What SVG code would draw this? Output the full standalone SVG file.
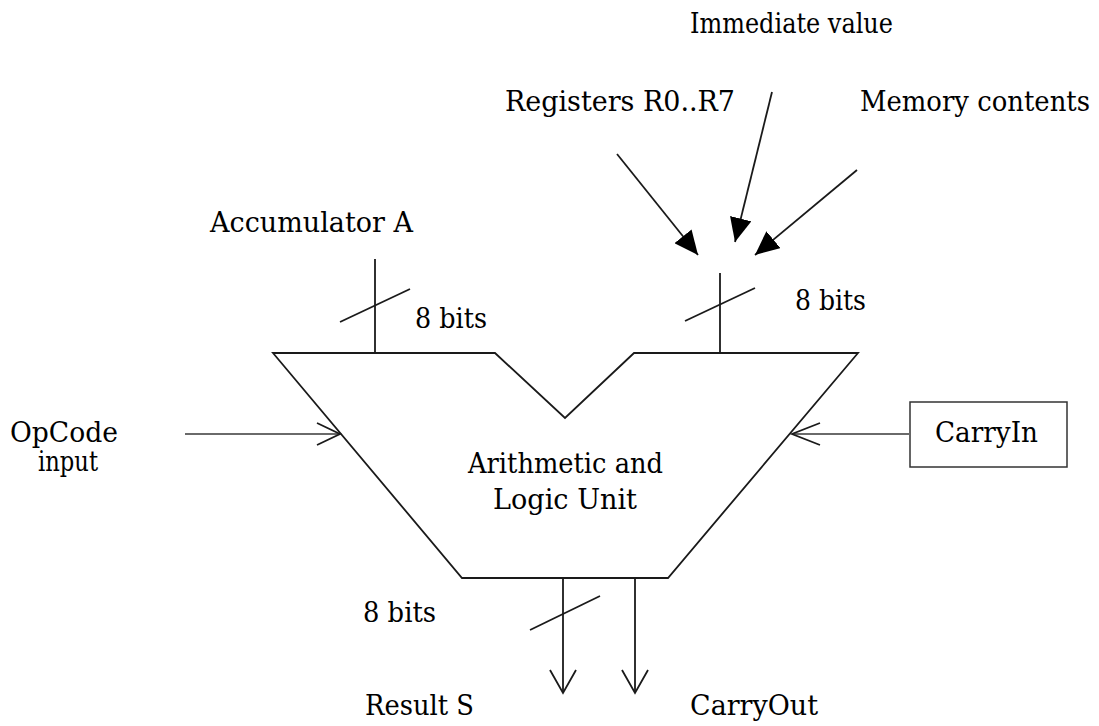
<svg xmlns="http://www.w3.org/2000/svg" width="1099" height="726" viewBox="0 0 1099 726">
<defs>
<style>
.t{font-family:"DejaVu Serif","Liberation Serif","Times New Roman",serif;font-size:27px;fill:#000}
.ln{stroke:#1a1a1a;stroke-width:1.8;fill:none}
.gr{stroke:#6a6a6a;stroke-width:2.2;fill:none}
</style>
<marker id="fill" markerWidth="24" markerHeight="22" refX="24" refY="11" orient="auto" markerUnits="userSpaceOnUse">
<path d="M0,0 L24,11 L0,22 Z" fill="#000"/>
</marker>
</defs>
<rect width="1099" height="726" fill="#fff"/>
<g id="alu">
<path class="ln" d="M273,353 L495,353 L565,418 L634,353 L858,353 L668,578 L462,578 Z"/>
<text class="t" x="468" y="473" textLength="195" lengthAdjust="spacingAndGlyphs">Arithmetic and</text>
<text class="t" x="493" y="509" textLength="144" lengthAdjust="spacingAndGlyphs">Logic Unit</text>
</g>
<g id="immediate">
<text class="t" x="690" y="33" textLength="203" lengthAdjust="spacingAndGlyphs">Immediate value</text>
</g>
<g id="registers">
<text class="t" x="505" y="111" textLength="230" lengthAdjust="spacingAndGlyphs">Registers R0..R7</text>
</g>
<g id="memory">
<text class="t" x="860" y="111" textLength="230" lengthAdjust="spacingAndGlyphs">Memory contents</text>
</g>
<g id="accumulator">
<text class="t" x="210" y="232" textLength="203" lengthAdjust="spacingAndGlyphs">Accumulator A</text>
</g>
<g id="opcode">
<text class="t" x="10" y="442" textLength="108" lengthAdjust="spacingAndGlyphs">OpCode</text>
<text class="t" x="38" y="471" textLength="60" lengthAdjust="spacingAndGlyphs">input</text>
</g>
<g id="carryin">
<rect x="910" y="402" width="157" height="65" fill="#fff" stroke="#333" stroke-width="1.5"/>
<text class="t" x="935" y="442" textLength="103" lengthAdjust="spacingAndGlyphs">CarryIn</text>
</g>
<g id="result">
<text class="t" x="365" y="715" textLength="109" lengthAdjust="spacingAndGlyphs">Result S</text>
</g>
<g id="carryout">
<text class="t" x="690" y="715" textLength="128" lengthAdjust="spacingAndGlyphs">CarryOut</text>
</g>
<g id="connectors">
<line class="ln" x1="375" y1="259" x2="375" y2="353"/>
<line class="ln" x1="340" y1="322" x2="410" y2="289"/>
<text class="t" x="415" y="328" textLength="72" lengthAdjust="spacingAndGlyphs">8 bits</text>
<line class="ln" x1="720" y1="273" x2="720" y2="353"/>
<line class="ln" x1="685" y1="321" x2="755" y2="288"/>
<text class="t" x="795" y="310" textLength="71" lengthAdjust="spacingAndGlyphs">8 bits</text>
<line class="ln" x1="617" y1="154" x2="698" y2="255" marker-end="url(#fill)"/>
<line class="ln" x1="772" y1="92" x2="735" y2="242" marker-end="url(#fill)"/>
<line class="ln" x1="857" y1="170" x2="755" y2="255" marker-end="url(#fill)"/>
<line class="gr" x1="185" y1="434" x2="340" y2="434"/>
<path class="ln" d="M317,423 L340,434 L317,445"/>
<line class="gr" x1="910" y1="434" x2="792" y2="434"/>
<path class="ln" d="M820,423 L792,434 L820,445"/>
<line class="ln" x1="563" y1="578" x2="563" y2="693"/>
<path class="ln" d="M550,670 L563,693 L576,670"/>
<line class="ln" x1="530" y1="630" x2="600" y2="596"/>
<text class="t" x="363" y="622" textLength="73" lengthAdjust="spacingAndGlyphs">8 bits</text>
<line class="ln" x1="635" y1="578" x2="635" y2="693"/>
<path class="ln" d="M622,670 L635,693 L648,670"/>
</g>
</svg>
